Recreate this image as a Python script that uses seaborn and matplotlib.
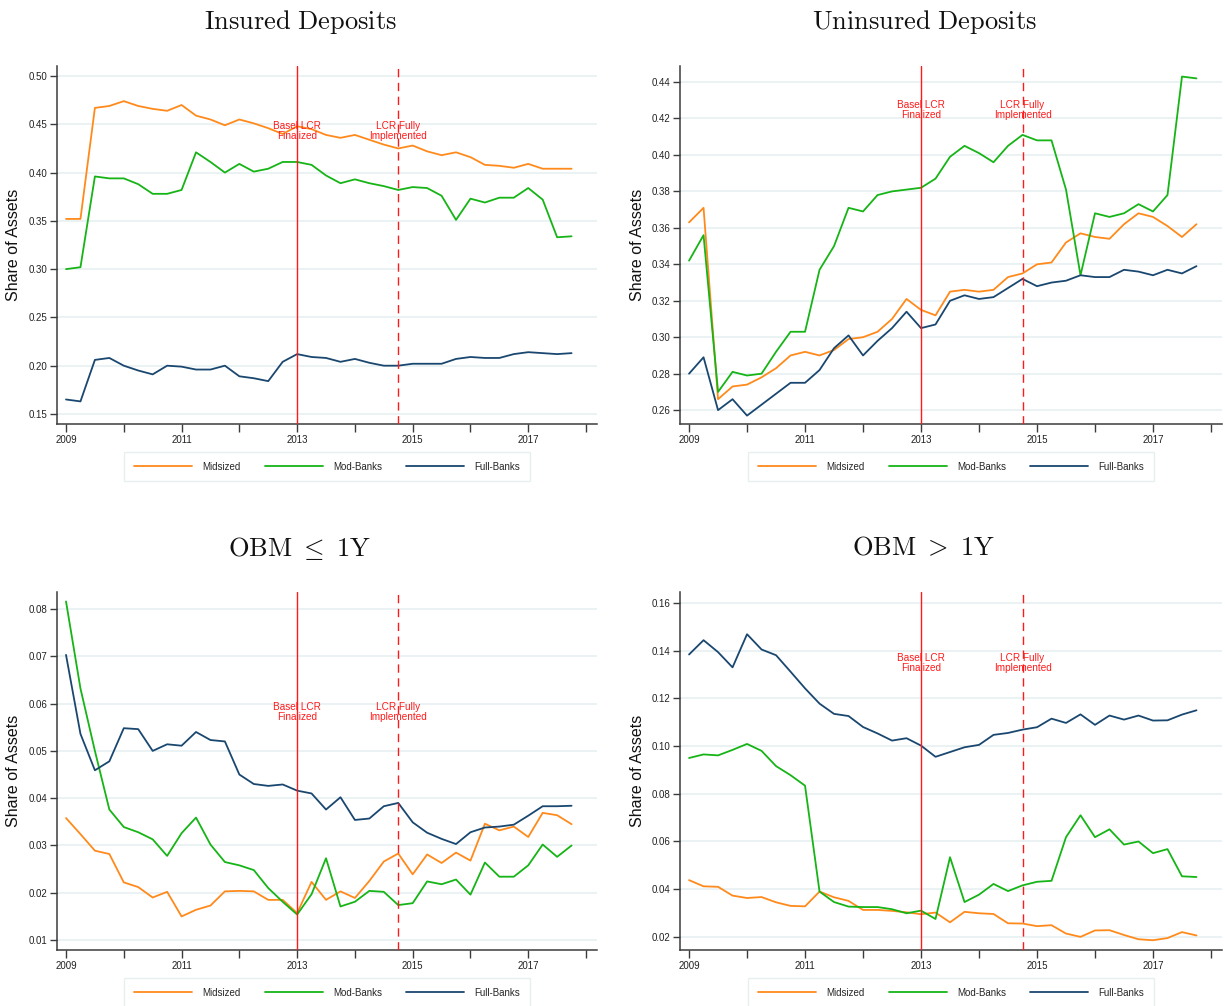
import numpy as np
import pandas as pd
import matplotlib
matplotlib.use("Agg")
import matplotlib.pyplot as plt
import seaborn as sns

# ---------------- data ----------------
years = list(range(2009, 2018))
quarter_offsets = [0.0, 0.25, 0.5, 0.75]
quarters = [y + q for y in years for q in quarter_offsets]  # 2009Q1 .. 2017Q4

groups = ["Midsized", "Mod-Banks", "Full-Banks"]

insured_mid = [0.352, 0.352, 0.467, 0.469, 0.474, 0.469, 0.466, 0.464, 0.470, 0.459,
               0.455, 0.449, 0.455, 0.451, 0.446, 0.440, 0.448, 0.445, 0.439, 0.436,
               0.439, 0.434, 0.429, 0.425, 0.428, 0.422, 0.418, 0.421, 0.416, 0.408,
               0.407, 0.405, 0.409, 0.404, 0.404, 0.404]
insured_mod = [0.300, 0.302, 0.396, 0.394, 0.394, 0.388, 0.378, 0.378, 0.382, 0.421,
               0.411, 0.400, 0.409, 0.401, 0.404, 0.411, 0.411, 0.408, 0.397, 0.389,
               0.393, 0.389, 0.386, 0.382, 0.385, 0.384, 0.376, 0.351, 0.373, 0.369,
               0.374, 0.374, 0.384, 0.372, 0.333, 0.334]
insured_full = [0.165, 0.163, 0.206, 0.208, 0.200, 0.195, 0.191, 0.200, 0.199, 0.196,
                0.196, 0.200, 0.189, 0.187, 0.184, 0.204, 0.212, 0.209, 0.208, 0.204,
                0.207, 0.203, 0.200, 0.200, 0.202, 0.202, 0.202, 0.207, 0.209, 0.208,
                0.208, 0.212, 0.214, 0.213, 0.212, 0.213]

uninsured_mid = [0.363, 0.371, 0.266, 0.273, 0.274, 0.278, 0.283, 0.290, 0.292, 0.290,
                 0.293, 0.299, 0.300, 0.303, 0.310, 0.321, 0.315, 0.312, 0.325, 0.326,
                 0.325, 0.326, 0.333, 0.335, 0.340, 0.341, 0.352, 0.357, 0.355, 0.354,
                 0.362, 0.368, 0.366, 0.361, 0.355, 0.362]
uninsured_mod = [0.342, 0.356, 0.270, 0.281, 0.279, 0.280, 0.292, 0.303, 0.303, 0.337,
                 0.350, 0.371, 0.369, 0.378, 0.380, 0.381, 0.382, 0.387, 0.399, 0.405,
                 0.401, 0.396, 0.405, 0.411, 0.408, 0.408, 0.381, 0.334, 0.368, 0.366,
                 0.368, 0.373, 0.369, 0.378, 0.443, 0.442]
uninsured_full = [0.280, 0.289, 0.260, 0.266, 0.257, 0.263, 0.269, 0.275, 0.275, 0.282,
                  0.294, 0.301, 0.290, 0.298, 0.305, 0.314, 0.305, 0.307, 0.320, 0.323,
                  0.321, 0.322, 0.327, 0.332, 0.328, 0.330, 0.331, 0.334, 0.333, 0.333,
                  0.337, 0.336, 0.334, 0.337, 0.335, 0.339]

obm_short_mid = [0.0358, 0.0324, 0.0289, 0.0282, 0.0222, 0.0212, 0.0190, 0.0202, 0.0150, 0.0164,
                 0.0173, 0.0203, 0.0204, 0.0203, 0.0185, 0.0185, 0.0157, 0.0223, 0.0185, 0.0203,
                 0.0189, 0.0225, 0.0266, 0.0283, 0.0239, 0.0281, 0.0263, 0.0285, 0.0268, 0.0346,
                 0.0332, 0.0340, 0.0318, 0.0369, 0.0364, 0.0345]
obm_short_mod = [0.0816, 0.0632, 0.0500, 0.0376, 0.0339, 0.0328, 0.0313, 0.0278, 0.0326, 0.0359,
                 0.0302, 0.0265, 0.0258, 0.0248, 0.0210, 0.0181, 0.0154, 0.0197, 0.0273, 0.0171,
                 0.0181, 0.0204, 0.0202, 0.0174, 0.0178, 0.0224, 0.0218, 0.0228, 0.0196, 0.0264,
                 0.0234, 0.0234, 0.0258, 0.0302, 0.0276, 0.0300]
obm_short_full = [0.0703, 0.0536, 0.0459, 0.0478, 0.0548, 0.0546, 0.0500, 0.0514, 0.0511, 0.0540,
                  0.0523, 0.0520, 0.0450, 0.0430, 0.0426, 0.0429, 0.0416, 0.0410, 0.0376, 0.0402,
                  0.0354, 0.0357, 0.0383, 0.0390, 0.0349, 0.0327, 0.0314, 0.0303, 0.0328, 0.0338,
                  0.0340, 0.0344, 0.0363, 0.0383, 0.0383, 0.0384]

obm_long_mid = [0.0438, 0.0412, 0.0410, 0.0373, 0.0363, 0.0367, 0.0345, 0.0330, 0.0328, 0.0390,
                0.0366, 0.0351, 0.0313, 0.0313, 0.0309, 0.0303, 0.0295, 0.0302, 0.0261, 0.0305,
                0.0299, 0.0296, 0.0257, 0.0256, 0.0245, 0.0249, 0.0214, 0.0200, 0.0227, 0.0228,
                0.0208, 0.0190, 0.0186, 0.0195, 0.0220, 0.0206]
obm_long_mod = [0.0950, 0.0965, 0.0961, 0.0984, 0.1009, 0.0980, 0.0916, 0.0878, 0.0834, 0.0390,
                0.0346, 0.0327, 0.0325, 0.0325, 0.0316, 0.0299, 0.0310, 0.0275, 0.0534, 0.0346,
                0.0377, 0.0422, 0.0392, 0.0416, 0.0431, 0.0435, 0.0618, 0.0710, 0.0618, 0.0651,
                0.0587, 0.0600, 0.0551, 0.0568, 0.0454, 0.0451]
obm_long_full = [0.1384, 0.1444, 0.1394, 0.1330, 0.1469, 0.1405, 0.1381, 0.1312, 0.1242, 0.1178,
                 0.1135, 0.1126, 0.1080, 0.1053, 0.1023, 0.1033, 0.1002, 0.0955, 0.0975, 0.0995,
                 0.1005, 0.1047, 0.1055, 0.1069, 0.1079, 0.1115, 0.1097, 0.1133, 0.1089, 0.1128,
                 0.1111, 0.1128, 0.1107, 0.1108, 0.1132, 0.1150]

titles = [r"$\mathrm{Insured\ Deposits}$", r"$\mathrm{Uninsured\ Deposits}$",
          r"$\mathrm{OBM}\ \leq\ \mathrm{1Y}$", r"$\mathrm{OBM}\ >\ \mathrm{1Y}$"]
panel_series = [
    (insured_mid, insured_mod, insured_full),
    (uninsured_mid, uninsured_mod, uninsured_full),
    (obm_short_mid, obm_short_mod, obm_short_full),
    (obm_long_mid, obm_long_mod, obm_long_full),
]
yticks_list = [
    [0.15, 0.20, 0.25, 0.30, 0.35, 0.40, 0.45, 0.50],
    [0.26, 0.28, 0.30, 0.32, 0.34, 0.36, 0.38, 0.40, 0.42, 0.44],
    [0.01, 0.02, 0.03, 0.04, 0.05, 0.06, 0.07, 0.08],
    [0.02, 0.04, 0.06, 0.08, 0.10, 0.12, 0.14, 0.16],
]
ylims = [(0.1396, 0.5104), (0.2524, 0.4488), (0.0079, 0.0836), (0.0145, 0.1646)]
annot_y = [0.443, 0.4246, 0.0582, 0.1349]

event_basel = 2013.0
event_lcr = 2014.75
event_labels = ["Basel LCR\nFinalized", "LCR Fully\nImplemented"]

xtick_years = list(range(2009, 2019))
xtick_labels = [str(y) if (y % 2 == 1 and y <= 2017) else "" for y in xtick_years]

# ---------------- style ----------------
sns.set_style("white")
plt.rcParams["font.family"] = ["Liberation Sans", "DejaVu Sans"]
plt.rcParams["mathtext.fontset"] = "cm"

palette = {"Midsized": "#FF8A1C", "Mod-Banks": "#16B416", "Full-Banks": "#1A476F"}
spine_col = "#3C3C3C"
grid_col = "#E6EFF1"
red = "#FF1A1A"

W, H = 1225, 1006
fig = plt.figure(figsize=(W / 100, H / 100), dpi=100)

# axes boxes in pixels: (left, top, right, bottom)
boxes = [(57, 66, 597, 424), (680, 66, 1222, 424),
         (57, 592, 597, 950), (680, 592, 1222, 950)]
title_pos = [(300, 22), (924, 22), (300, 548), (924, 548)]

for k in range(4):
    l, t, r, b = boxes[k]
    ax = fig.add_axes([l / W, 1 - b / H, (r - l) / W, (b - t) / H])
    mid, mod, full = panel_series[k]
    df = pd.DataFrame({
        "quarter": quarters * 3,
        "share": list(mid) + list(mod) + list(full),
        "group": [groups[0]] * len(quarters) + [groups[1]] * len(quarters) + [groups[2]] * len(quarters),
    })
    for yv in yticks_list[k]:
        ax.axhline(yv, color=grid_col, lw=1.1, zorder=0)
    sns.lineplot(data=df, x="quarter", y="share", hue="group", hue_order=groups,
                 palette=palette, estimator=None, lw=1.3, ax=ax, zorder=3)

    ax.axvline(event_basel, color=red, lw=1.0, zorder=4)
    ax.axvline(event_lcr, color=red, lw=1.0, ls=(0, (6, 4)), zorder=4)
    ax.text(event_basel, annot_y[k], event_labels[0], color=red, fontsize=7.2,
            ha="center", va="center", linespacing=0.95, zorder=5)
    ax.text(event_lcr, annot_y[k], event_labels[1], color=red, fontsize=7.2,
            ha="center", va="center", linespacing=0.95, zorder=5)

    ax.set_xlim(2008.844, 2018.19)
    ax.set_ylim(*ylims[k])
    ax.set_xticks(xtick_years)
    ax.set_xticklabels(xtick_labels)
    ax.set_yticks(yticks_list[k])
    ax.set_yticklabels([f"{v:.2f}" for v in yticks_list[k]])
    ax.tick_params(axis="both", direction="out", length=5, width=1.0, color=spine_col,
                   labelsize=7, labelcolor="#222222", pad=2, bottom=True, left=True)
    ax.tick_params(axis="x", length=6)
    ax.set_xlabel("")
    ax.set_ylabel("")
    for s in ["top", "right"]:
        ax.spines[s].set_visible(False)
    for s in ["left", "bottom"]:
        ax.spines[s].set_color(spine_col)
        ax.spines[s].set_linewidth(1.1)

    handles, labels = ax.get_legend_handles_labels()
    leg = ax.legend(handles, labels, loc="upper center", bbox_to_anchor=(0.5, -0.078),
                    ncol=3, fontsize=7, handlelength=6.0, handletextpad=1.0,
                    columnspacing=2.5, frameon=True, fancybox=False, borderpad=1.0,
                    borderaxespad=0)
    leg.get_frame().set_edgecolor("#E3ECEE")
    leg.get_frame().set_linewidth(1.0)
    for line in leg.get_lines():
        line.set_linewidth(1.3)

    tx, ty = title_pos[k]
    fig.text(tx / W, 1 - ty / H, titles[k], ha="center", va="center", fontsize=19,
             color="#111111")
    fig.text((l - 43) / W, 1 - ((t + b) / 2) / H, "Share of Assets", rotation=90,
             ha="center", va="center", fontsize=11.5, color="#111111")

fig.savefig("out.png", dpi=100, facecolor="white")
